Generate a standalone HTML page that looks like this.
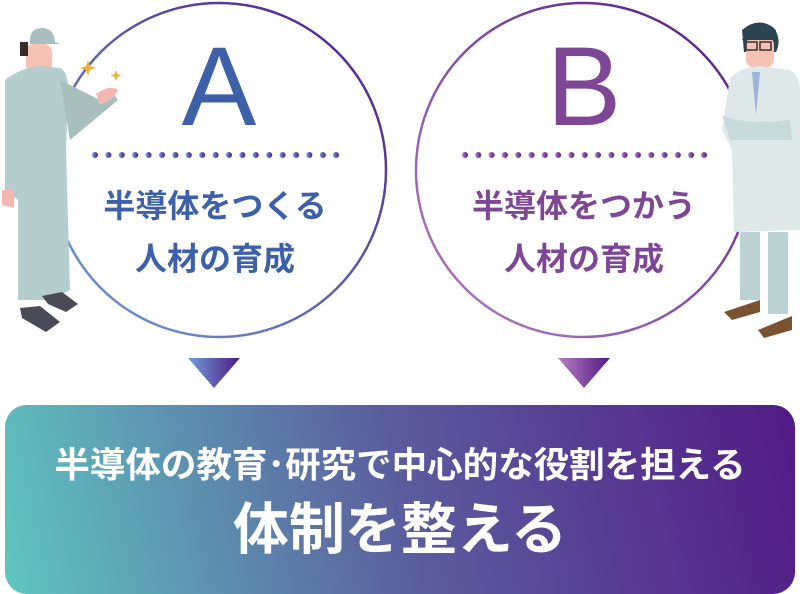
<!DOCTYPE html>
<html><head><meta charset="utf-8"><style>
html,body{margin:0;padding:0;background:#fff;}
body{width:800px;height:594px;position:relative;overflow:hidden;font-family:"Liberation Sans","Noto Sans CJK JP",sans-serif;}
.t{position:absolute;text-align:center;font-weight:bold;white-space:nowrap;}
</style></head><body>
<svg width="800" height="594" style="position:absolute;left:0;top:0">
<defs>
<linearGradient id="ga" x1="0" y1="1" x2="1" y2="0"><stop offset="0" stop-color="#6f9fd8"/><stop offset="1" stop-color="#4f1a85"/></linearGradient>
<linearGradient id="gb" x1="0" y1="1" x2="1" y2="0"><stop offset="0" stop-color="#b67fc0"/><stop offset="1" stop-color="#4f1a85"/></linearGradient>
<linearGradient id="gd" x1="0" y1="0" x2="1" y2="0"><stop offset="0" stop-color="#6f9fd8"/><stop offset="1" stop-color="#4f1a85"/></linearGradient>
<linearGradient id="gd2" x1="0" y1="0" x2="1" y2="0"><stop offset="0" stop-color="#b67fc0"/><stop offset="1" stop-color="#4f1a85"/></linearGradient>
<linearGradient id="gbox" gradientUnits="userSpaceOnUse" x1="5" y1="594" x2="795" y2="405"><stop offset="0" stop-color="#5fc6c0"/><stop offset="0.5" stop-color="#5b5d9e"/><stop offset="1" stop-color="#521a86"/></linearGradient>
</defs>
<circle cx="219" cy="170" r="167" fill="none" stroke="url(#ga)" stroke-width="2.5"/>
<circle cx="583" cy="170" r="167" fill="none" stroke="url(#gb)" stroke-width="2.5"/>
<g fill="url(#gd)">
<circle cx="95" cy="155" r="3"/><circle cx="108.4" cy="155" r="3"/><circle cx="121.8" cy="155" r="3"/><circle cx="135.2" cy="155" r="3"/><circle cx="148.6" cy="155" r="3"/><circle cx="162" cy="155" r="3"/><circle cx="175.4" cy="155" r="3"/><circle cx="188.8" cy="155" r="3"/><circle cx="202.2" cy="155" r="3"/><circle cx="215.6" cy="155" r="3"/><circle cx="229" cy="155" r="3"/><circle cx="242.4" cy="155" r="3"/><circle cx="255.8" cy="155" r="3"/><circle cx="269.2" cy="155" r="3"/><circle cx="282.6" cy="155" r="3"/><circle cx="296" cy="155" r="3"/><circle cx="309.4" cy="155" r="3"/><circle cx="322.8" cy="155" r="3"/><circle cx="336" cy="155" r="3"/>
</g>
<g fill="url(#gd2)">
<circle cx="465" cy="155" r="3"/><circle cx="478.3" cy="155" r="3"/><circle cx="491.6" cy="155" r="3"/><circle cx="504.9" cy="155" r="3"/><circle cx="518.2" cy="155" r="3"/><circle cx="531.5" cy="155" r="3"/><circle cx="544.8" cy="155" r="3"/><circle cx="558.1" cy="155" r="3"/><circle cx="571.4" cy="155" r="3"/><circle cx="584.7" cy="155" r="3"/><circle cx="598" cy="155" r="3"/><circle cx="611.3" cy="155" r="3"/><circle cx="624.6" cy="155" r="3"/><circle cx="637.9" cy="155" r="3"/><circle cx="651.2" cy="155" r="3"/><circle cx="664.5" cy="155" r="3"/><circle cx="677.8" cy="155" r="3"/><circle cx="691.1" cy="155" r="3"/><circle cx="704" cy="155" r="3"/>
</g>
<polygon points="188,358 240,358 214,388" fill="url(#gd)"/>
<polygon points="558,358 610,358 584,388" fill="url(#gd2)"/>
<rect x="5" y="405" width="790" height="189" rx="22" fill="url(#gbox)"/>
<!-- worker -->
<g>
<path d="M30 40 Q30 28 42 28 Q54 28 55 42 L60 44 L30 44Z" fill="#a9bfbd"/>
<rect x="26" y="44" width="26" height="28" rx="8" fill="#f4c1b3"/>
<rect x="20" y="42" width="8" height="14" fill="#3a2a2a"/>
<path d="M5 80 Q20 68 40 66 L60 68 Q70 72 68 100 L66 150 L70 290 L50 300 L40 300 L18 300 L18 200 L5 190Z" fill="#b5cdcc"/>
<path d="M60 80 L100 100 L112 92 L118 100 L70 140Z" fill="#a9bfbd"/>
<path d="M96 94 Q110 84 118 90 Q112 102 100 104Z" fill="#f4b6b1"/>
<path d="M2 190 L14 190 L14 208 L2 205Z" fill="#f4b6b1"/>
<path d="M20 308 L40 306 L60 322 L46 332 L22 318Z" fill="#4b4b57"/>
<path d="M42 296 L62 292 L78 304 L66 312 L48 304Z" fill="#4b4b57"/>
<path d="M88 60 l2 6 6 2 -6 2 -2 6 -2 -6 -6 -2 6 -2z" fill="#e8b73a"/>
<path d="M116 70 l1.5 4 4 1.5 -4 1.5 -1.5 4 -1.5 -4 -4 -1.5 4 -1.5z" fill="#e8b73a"/>
</g>
<!-- scientist -->
<g>
<path d="M742 30 Q758 16 774 28 Q782 40 776 52 L744 52Z" fill="#2d4550"/>
<rect x="746" y="36" width="28" height="32" rx="9" fill="#f4c1b3"/>
<path d="M742 40 Q750 22 776 30 L776 40 Z" fill="#2d4550"/>
<rect x="746" y="42" width="11" height="8" fill="none" stroke="#333" stroke-width="1.5"/><rect x="760" y="42" width="11" height="8" fill="none" stroke="#333" stroke-width="1.5"/>
<path d="M730 78 Q740 68 760 66 L790 70 Q800 76 800 90 L800 230 L734 232 L732 150 L722 130Z" fill="#dfe8e8"/>
<path d="M752 72 L760 72 L756 115Z" fill="#9cb4d9"/>
<path d="M722 115 Q740 125 790 120 L792 140 L730 140Z" fill="#c9dada"/>
<rect x="740" y="232" width="20" height="68" fill="#bcd1d2"/><rect x="768" y="232" width="20" height="82" fill="#bcd1d2"/>
<path d="M724 312 L760 300 L760 312 L732 320Z" fill="#7b5230"/>
<path d="M758 330 L792 316 L792 330 L764 338Z" fill="#7b5230"/>
</g>
</svg>
<div class="t" style="left:119px;top:42px;width:200px;font-size:112px;line-height:90px;font-weight:normal;color:#3d60a8;">A</div>
<div class="t" style="left:484px;top:42px;width:200px;font-size:112px;line-height:90px;font-weight:normal;color:#7e4796;">B</div>
<div class="t" style="left:50px;top:180px;width:330px;font-size:32px;line-height:53px;color:#3d60a8;">半導体をつくる<br>人材の育成</div>
<div class="t" style="left:419px;top:180px;width:330px;font-size:32px;line-height:53px;color:#7e4796;">半導体をつかう<br>人材の育成</div>
<div class="t" style="left:5px;top:444px;width:790px;font-size:35.5px;line-height:42px;color:#fff;">半導体の教育･研究で中心的な役割を担える</div>
<div class="t" style="left:5px;top:500px;width:790px;font-size:56px;line-height:60px;color:#fff;">体制を整える</div>
</body></html>
